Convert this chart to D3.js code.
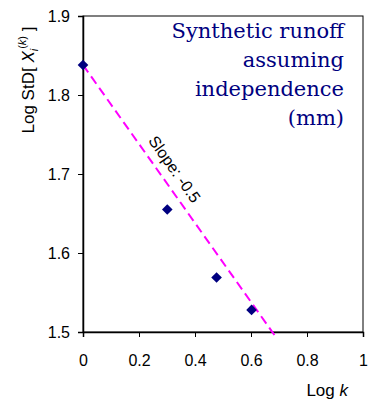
<!DOCTYPE html>
<html>
<head>
<meta charset="utf-8">
<script src="https://cdn.jsdelivr.net/npm/d3@7"></script>
<style>
  body { margin: 0; background: #fff; }
  svg { display: block; }
</style>
</head>
<body>
<div id="chart"></div>
<script>
// data
const logK = [0, 0.301, 0.477, 0.602];
const logStd = [1.838, 1.655, 1.569, 1.528];
const slope = -0.5;
const lineEndX = 0.69;
const xTicks = [0, 0.2, 0.4, 0.6, 0.8, 1];
const yTicks = [1.5, 1.6, 1.7, 1.8, 1.9];
const titleLines = ['Synthetic runoff', 'assuming', 'independence', '(mm)'];

const W = 368, H = 400;
const m = {top: 16, right: 5, bottom: 68, left: 83};
const sans = '"Liberation Sans", Arial, sans-serif';

const svg = d3.select('#chart').append('svg')
  .attr('width', W).attr('height', H);

const x = d3.scaleLinear().domain([0, 1]).range([m.left, W - m.right]);
const y = d3.scaleLinear().domain([1.5, 1.9]).range([H - m.bottom, m.top]);

// plot frame
svg.append('rect')
  .attr('x', x(0)).attr('y', y(1.9))
  .attr('width', x(1) - x(0)).attr('height', y(1.5) - y(1.9))
  .attr('fill', 'none').attr('stroke', '#000').attr('stroke-width', 1);

const xAxis = svg.append('g')
  .attr('transform', `translate(0,${y(1.5)})`)
  .call(d3.axisBottom(x).tickValues(xTicks).tickSize(5).tickPadding(18)
    .tickFormat(d => String(+d.toFixed(1))));
const yAxis = svg.append('g')
  .attr('transform', `translate(${x(0)},0)`)
  .call(d3.axisLeft(y).tickValues(yTicks).tickSize(5).tickPadding(8)
    .tickFormat(d3.format('.1f')));

[xAxis, yAxis].forEach(g => {
  g.select('.domain').attr('stroke', '#000').attr('stroke-width', 1.5);
  g.selectAll('.tick line').attr('stroke', '#000');
  g.selectAll('text')
    .attr('fill', '#000')
    .style('font-family', sans)
    .style('font-size', '16px');
});

// slope line
const x0 = logK[0], y0 = logStd[0];
svg.append('line')
  .attr('x1', x(x0)).attr('y1', y(y0))
  .attr('x2', x(lineEndX)).attr('y2', y(y0 + slope * (lineEndX - x0)))
  .attr('stroke', '#ff00ff').attr('stroke-width', 2)
  .attr('stroke-dasharray', '9,5');

// slope label, laid along the line
const lx = 0.285, ly = y0 + slope * (lx - x0);
const ang = Math.atan2(y(ly + slope * 0.1) - y(ly), x(lx + 0.1) - x(lx)) * 180 / Math.PI;
svg.append('text')
  .attr('transform', `translate(${x(lx)},${y(ly)}) rotate(${ang})`)
  .attr('dy', -9)
  .attr('text-anchor', 'middle')
  .style('font-family', sans)
  .style('font-size', '16px')
  .text('Slope: -0.5');

// points
svg.selectAll('.pt')
  .data(logK.map((k, i) => [k, logStd[i]]))
  .enter().append('path')
  .attr('class', 'pt')
  .attr('d', d3.symbol().type(d3.symbolDiamond2).size(72))
  .attr('transform', d => `translate(${x(d[0])},${y(d[1])})`)
  .attr('fill', '#000080');

// title
svg.append('text')
  .attr('text-anchor', 'end')
  .style('font-family', '"DejaVu Serif", serif')
  .style('font-size', '21px')
  .attr('fill', '#000080')
  .selectAll('tspan')
  .data(titleLines)
  .enter().append('tspan')
  .attr('x', 344)
  .attr('y', (d, i) => 38 + i * 29)
  .text(d => d);

// axis titles
svg.append('text')
  .attr('x', 348).attr('y', 396)
  .attr('text-anchor', 'end')
  .style('font-family', sans)
  .style('font-size', '17px')
  .html('Log <tspan font-style="italic">k</tspan>');

const yt = svg.append('text')
  .attr('transform', 'translate(34,80) rotate(-90)')
  .attr('text-anchor', 'middle')
  .style('font-family', sans)
  .style('font-size', '17px');
yt.append('tspan').text('Log StD[ ');
yt.append('tspan').attr('font-style', 'italic').text('X');
yt.append('tspan').attr('font-style', 'italic').attr('font-size', '11px').attr('dy', 4).text('i');
yt.append('tspan').attr('font-size', '11px').attr('dy', -12).text('(');
yt.append('tspan').attr('font-style', 'italic').attr('font-size', '11px').text('k');
yt.append('tspan').attr('font-size', '11px').text(')');
yt.append('tspan').attr('dy', 8).text(' ]');
</script>
</body>
</html>
